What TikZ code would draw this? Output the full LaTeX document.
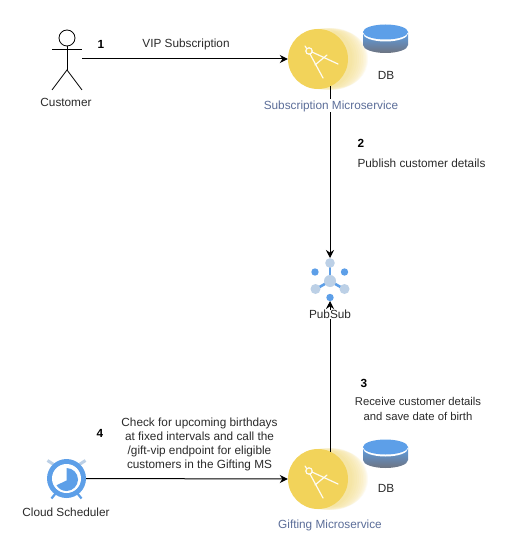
\documentclass[tikz,border=0pt]{standalone}
\usepackage{fontspec}
\setmainfont{Liberation Sans}
\usetikzlibrary{arrows.meta,calc}
\definecolor{ybase}{HTML}{F2D35A}
\definecolor{gblue}{HTML}{5D9FE8}
\definecolor{glight}{HTML}{BCD0E6}
\definecolor{slate}{HTML}{5C6E99}
\definecolor{ink}{HTML}{2B2B2B}
\definecolor{dbgray}{HTML}{6E7480}
\tikzset{
  txt/.style={font=\fontsize{11.8}{14}\selectfont,text=ink,inner sep=0pt,align=center},
  num/.style={font=\fontsize{11.8}{14}\selectfont\bfseries,text=black,inner sep=0pt},
  mslabel/.style={txt,text=slate,fill=white,inner xsep=1pt,inner ysep=1pt},
  plainlabel/.style={txt,fill=white,inner xsep=1pt,inner ysep=.5pt},
  conn/.style={draw=black,line width=1pt,-{Stealth[length=8pt,width=8pt]}},
  msnode/.style={circle,fill=ybase,minimum size=60pt,inner sep=0pt},
  anchorbox/.style={inner sep=0pt,outer sep=0pt},
}
\newcommand{\msicon}[1]{%
  \foreach \d/\r in {22/28,20/29,18/30,16/30.5,14/31,12/31,10/31,8/31,6/30.5,4/30.5}{
    \fill[ybase,opacity=.07] ($(#1)+(\d,0)$) circle (\r);
  }
}
\newcommand{\compass}[1]{%
  \begin{scope}[shift={(#1)},draw=white!92!ybase,line width=1.2pt,line cap=round]
    \draw (-9,-8) circle (3.2);
    \draw (-13,-13) -- (-11,-10);
    \draw (-8,-5) -- (5,19);
    \draw (-6,-7) -- (20,5);
    \draw (-3,6) -- (9,-4);
  \end{scope}}
\newcommand{\dbicon}[1]{%
  \begin{scope}[shift={(#1)}]
    \shade[top color=gblue,bottom color=dbgray] (-22.5,0) -- (-22.5,13) arc[start angle=180,end angle=0,x radius=22.5,y radius=8] -- (22.5,0) -- cycle;
    \fill[white] (0,1.5) ellipse (22.5 and 8);
    \fill[gblue] (0,0) ellipse (22.5 and 7.5);
  \end{scope}}
\begin{document}
\begin{tikzpicture}[x=1pt,y=-1pt]
\useasboundingbox (0,0) rectangle (522,553);
\fill[white] (0,0) rectangle (522,553);

% microservice icons
\msicon{318,59}
\msicon{318,479}
\node[msnode] (sub) at (318,59) {};
\node[msnode] (gift) at (318,479) {};
\compass{318,59}
\compass{318,479}
\dbicon{385.5,32}
\dbicon{385.5,447}

% actor
\node[anchorbox,minimum width=30pt,minimum height=60pt] (actor) at (67,59) {};
\begin{scope}[draw=black,line width=.8pt]
  \draw (67,38) circle (8);
  \draw (67,46) -- (67,70);
  \draw (52,49) -- (82,49);
  \draw (52,90) -- (67,70) -- (82,90);
\end{scope}

% scheduler
\node[circle,anchorbox,minimum size=39pt] (sched) at (66.5,478.5) {};
\begin{scope}[shift={(66.5,478.5)}]
  \draw[gblue,line width=2.2pt] (-11,15) -- (-15,20);
  \draw[gblue,line width=2.2pt] (11,15) -- (15,20);
  \draw[glight,line width=3pt] (-19,-18) -- (-12,-13.5);
  \draw[glight,line width=3pt] (19,-18) -- (12,-13.5);
  \fill[gblue] (0,0) circle (19.5);
  \fill[white] (0,0) circle (14.5);
  \fill[gblue] (0,2) -- (0,-10.5) arc[start angle=-90,end angle=150,radius=11.5] -- cycle;
\end{scope}

% pubsub
\node[circle,anchorbox,minimum size=46pt] (pub) at (330,281) {};
\begin{scope}[shift={(330,281)}]
  \draw[gblue,line width=2.6pt] (0,0) -- (0,-17);
  \draw[gblue,line width=2.6pt] (0,0) -- (-14,8);
  \draw[gblue,line width=2.6pt] (0,0) -- (14,8);
  \foreach \p in {(-15,-9),(14.5,-9),(0,16.5)} \fill[gblue] \p circle (3.7);
  \foreach \p/\r in {(0,-18)/4.8,(0,0)/6,(-14.5,8)/5,(14.5,8)/5} \fill[glight] \p circle (\r);
\end{scope}

% connectors
\draw[conn] (actor.east) -- (sub.west);
\draw[conn] (pub |- sub.-65) -- (pub.north);
\draw[conn,shorten >=-3pt] (pub |- gift.65) -- (pub.south);
\draw[conn] (sched.east) -- (gift.west);

% labels
\node[txt] (lcust) at (66,102.5) {Customer};
\node[num] (n1) at (101,44) {1};
\node[txt] (lvip) at (186,44) {VIP Subscription};
\node[mslabel] (lsub) at (331,106) {Subscription Microservice};
\node[txt] (ldb1) at (386,75) {DB};
\node[num] (n2) at (361,143) {2};
\node[txt] (lpublish) at (421.5,163) {Publish customer details};
\node[plainlabel] (lpub) at (330,314.5) {PubSub};
\node[num] (n3) at (364,383) {3};
\node[txt,font=\fontsize{11.3}{14.5}\selectfont] (lrecv) at (418,409) {Receive customer details\\and save date of birth};
\node[num] (n4) at (100,433) {4};
\node[txt] (lcheck) at (199.5,444) {Check for upcoming birthdays\\at fixed intervals and call the\\/gift-vip endpoint for eligible\\customers in the Gifting MS};
\node[txt] (ldb2) at (386,488) {DB};
\node[txt] (lsched) at (66,512.5) {Cloud Scheduler};
\node[mslabel] (lgift) at (330,525) {Gifting Microservice};
\end{tikzpicture}
\end{document}
